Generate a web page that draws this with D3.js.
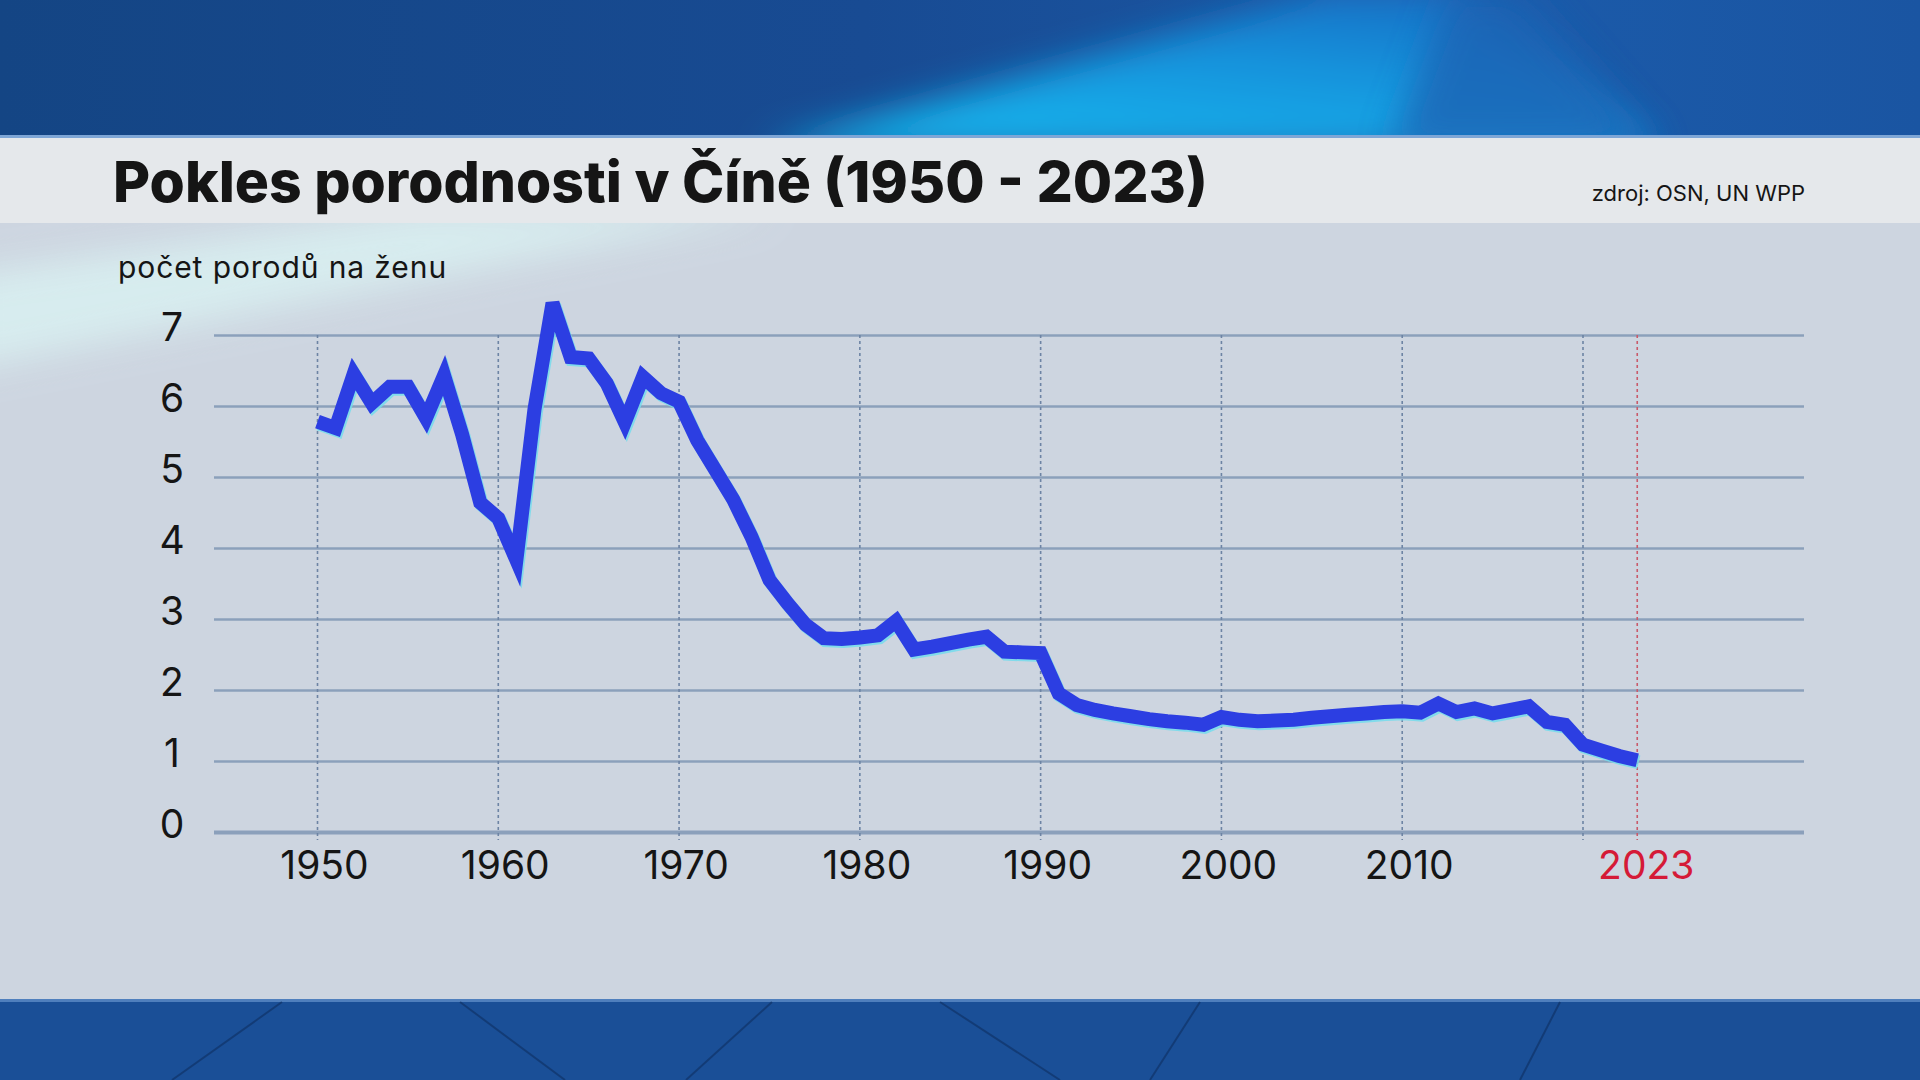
<!DOCTYPE html>
<html lang="cs">
<head>
<meta charset="utf-8">
<title>Pokles porodnosti v Číně</title>
<script src="https://d3js.org/d3.v7.min.js"></script>
<style>
  body { margin:0; background:#cdd5e0; }
  svg { display:block; }
  text { font-family: Inter, "Noto Sans", sans-serif; fill:#151515; }
</style>
</head>
<body>
<svg width="1920" height="1080"></svg>
<script>
// data (births per woman, China)
var years = [1950,1951,1952,1953,1954,1955,1956,1957,1958,1959,
             1960,1961,1962,1963,1964,1965,1966,1967,1968,1969,
             1970,1971,1972,1973,1974,1975,1976,1977,1978,1979,
             1980,1981,1982,1983,1984,1985,1986,1987,1988,1989,
             1990,1991,1992,1993,1994,1995,1996,1997,1998,1999,
             2000,2001,2002,2003,2004,2005,2006,2007,2008,2009,
             2010,2011,2012,2013,2014,2015,2016,2017,2018,2019,
             2020,2021,2022,2023];
var births = [5.78,5.69,6.45,6.04,6.27,6.27,5.83,6.43,5.60,4.64,
              4.42,3.83,5.95,7.45,6.69,6.67,6.32,5.77,6.41,6.18,
              6.06,5.52,5.10,4.68,4.16,3.55,3.22,2.92,2.73,2.72,
              2.74,2.77,2.97,2.57,2.61,2.66,2.71,2.75,2.54,2.53,
              2.52,1.95,1.79,1.72,1.67,1.63,1.59,1.56,1.54,1.51,
              1.62,1.58,1.56,1.57,1.58,1.61,1.63,1.65,1.67,1.69,
              1.70,1.68,1.81,1.69,1.74,1.67,1.72,1.77,1.55,1.51,
              1.23,1.15,1.07,1.01];
var yTicks = [0,1,2,3,4,5,6,7];
var gridYears = [1950,1960,1970,1980,1990,2000,2010,2020];
var yearLabels = ["1950","1960","1970","1980","1990","2000","2010"];
var lastYear = 2023;

var title = "Pokles porodnosti v Číně (1950 - 2023)";
var source = "zdroj: OSN, UN WPP";
var yTitle = "počet porodů na ženu";

var svg = d3.select("svg");
var defs = svg.append("defs");

var blur = defs.append("filter").attr("id","blur")
    .attr("x","-50%").attr("y","-50%").attr("width","200%").attr("height","200%");
blur.append("feGaussianBlur").attr("stdDeviation", 18);

var topGrad = defs.append("linearGradient").attr("id","topGrad");
topGrad.append("stop").attr("offset","0").attr("stop-color","#144584");
topGrad.append("stop").attr("offset","0.45").attr("stop-color","#184b93");
topGrad.append("stop").attr("offset","0.8").attr("stop-color","#1b5aa9");
topGrad.append("stop").attr("offset","1").attr("stop-color","#1a55a2");

var streakGrad = defs.append("linearGradient").attr("id","streakGrad")
    .attr("x1","0").attr("y1","1").attr("x2","0.6").attr("y2","0");
streakGrad.append("stop").attr("offset","0").attr("stop-color","#12bdf0");
streakGrad.append("stop").attr("offset","0.6").attr("stop-color","#1396de");
streakGrad.append("stop").attr("offset","1").attr("stop-color","#1b74c8");

var clipTop = defs.append("clipPath").attr("id","clipTop");
clipTop.append("rect").attr("x",0).attr("y",0).attr("width",1920).attr("height",137);
var clipPanel = defs.append("clipPath").attr("id","clipPanel");
clipPanel.append("rect").attr("x",0).attr("y",223).attr("width",1920).attr("height",777);

// background
svg.append("rect").attr("width",1920).attr("height",1080).attr("fill","#cdd5e0");

svg.append("g").attr("clip-path","url(#clipPanel)")
  .append("polygon")
    .attr("points","-40,275 -40,370 780,210 420,210")
    .attr("fill","#d8eef0").attr("opacity",0.95)
    .attr("filter","url(#blur)");

var topBand = svg.append("g").attr("clip-path","url(#clipTop)");
topBand.append("rect").attr("width",1920).attr("height",137).attr("fill","url(#topGrad)");
topBand.append("polygon")
    .attr("points","760,150 1335,-10 1450,-10 1660,150")
    .attr("fill","url(#streakGrad)").attr("filter","url(#blur)");
topBand.append("polygon")
    .attr("points","1390,150 1450,-10 1520,-10 1660,150")
    .attr("fill","#1d63b4").attr("filter","url(#blur)").attr("opacity",0.8);

svg.append("rect").attr("x",0).attr("y",137).attr("width",1920).attr("height",86).attr("fill","#e5e8eb");
svg.append("rect").attr("x",0).attr("y",135).attr("width",1920).attr("height",3).attr("fill","#7ea6d6");

var bottom = svg.append("g");
bottom.append("rect").attr("x",0).attr("y",1000).attr("width",1920).attr("height",80).attr("fill","#1a4f97");
bottom.append("rect").attr("x",0).attr("y",999).attr("width",1920).attr("height",3).attr("fill","#4f7fbd");
var deco = [[282,1002,172,1080],[460,1002,565,1080],[772,1002,686,1080],[940,1002,1060,1080],
            [1200,1002,1150,1080],[1560,1002,1520,1080]];
bottom.selectAll("line.deco").data(deco).enter().append("line")
    .attr("x1",d => d[0]).attr("y1",d => d[1]).attr("x2",d => d[2]).attr("y2",d => d[3])
    .attr("stroke","#0d2c5c").attr("stroke-width",2).attr("opacity",0.55);

// header texts
svg.append("text").attr("x",113).attr("y",202)
    .attr("font-size",57).attr("font-weight",800).attr("fill","#111")
    .text(title);
svg.append("text").attr("x",1805).attr("y",201).attr("text-anchor","end")
    .attr("font-size",22).attr("fill","#222")
    .text(source);

// scales
var x = d3.scaleLinear().domain([1950,2020]).range([317.5,1583]);
var y = d3.scaleLinear().domain([0,7]).range([832,335]);
var left = 214, right = 1804;

svg.append("text").attr("x",118).attr("y",278)
    .attr("font-size",30).attr("letter-spacing",0.9).attr("fill","#1a1a1a")
    .text(yTitle);

// horizontal grid
var gy = svg.append("g").attr("transform","translate(" + left + ",0)")
    .call(d3.axisLeft(y).tickValues(yTicks).tickSize(-(right-left)).tickFormat(d3.format("d")));
gy.select(".domain").remove();
gy.selectAll(".tick line")
    .attr("stroke","#8ba0bb")
    .attr("stroke-width",d => d === 0 ? 4 : 2.5);
gy.selectAll(".tick text")
    .attr("x",-42).attr("dy","0.32em").attr("y",-6.5)
    .attr("text-anchor","middle")
    .attr("font-size",39).attr("font-family","Inter, 'Noto Sans', sans-serif")
    .attr("fill","#151515");

// vertical dotted lines
svg.append("g").selectAll("line").data(gridYears).enter().append("line")
    .attr("x1",d => x(d)).attr("x2",d => x(d))
    .attr("y1",y(7)).attr("y2",y(0)+8)
    .attr("stroke","#6d84a4").attr("stroke-width",1.6)
    .attr("stroke-dasharray","3,3");
svg.append("line")
    .attr("x1",x(lastYear)).attr("x2",x(lastYear))
    .attr("y1",y(7)).attr("y2",y(0)+8)
    .attr("stroke","#c95a6a").attr("stroke-width",1.6)
    .attr("stroke-dasharray","3,3");

// x labels
svg.append("g").selectAll("text").data(yearLabels).enter().append("text")
    .attr("x",d => x(+d) + 7).attr("y",879)
    .attr("text-anchor","middle").attr("font-size",39)
    .text(d => d);
svg.append("text")
    .attr("x",x(lastYear) + 9).attr("y",879)
    .attr("text-anchor","middle").attr("font-size",39)
    .style("fill","#d51a37")
    .text(String(lastYear));

// the line
var pts = years.map((yr,i) => [yr, births[i]]);
var line = d3.line().x(d => x(d[0])).y(d => y(d[1]));

svg.append("path").datum(pts)
    .attr("d",line)
    .attr("fill","none")
    .attr("stroke","#74dcec")
    .attr("stroke-width",14)
    .attr("transform","translate(1.5,2)")
    .attr("opacity",0.85);
svg.append("path").datum(pts)
    .attr("d",line)
    .attr("fill","none")
    .attr("stroke","#2c3ee2")
    .attr("stroke-width",14)
    .attr("stroke-linejoin","miter");
</script>
</body>
</html>
